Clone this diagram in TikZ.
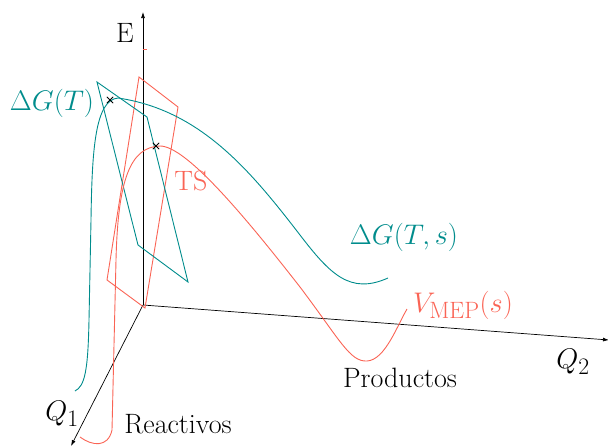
\documentclass[tikz,border=0pt]{standalone}
\usetikzlibrary{arrows.meta,shapes.misc}
\definecolor{tealc}{RGB}{0,140,140}
\definecolor{redc}{RGB}{250,100,85}
\begin{document}
\begin{tikzpicture}[x=1pt,y=-1pt,
  axis/.style={black,line width=0.7pt,-{Latex[length=6pt,width=4pt]}},
  tcurve/.style={tealc,line width=0.9pt},
  rcurve/.style={redc,line width=0.9pt},
  lbl/.style={inner sep=0pt,font=\fontsize{28}{33}\selectfont},
  mlbl/.style={inner sep=0pt,font=\Huge,scale=1.14},
  xmark/.style={cross out,draw=black,line width=0.8pt,inner sep=0pt,minimum size=5.5pt}]
\useasboundingbox (0,0) rectangle (608,445);
% axes
\coordinate (O) at (143,305);
\coordinate (Etop) at (143,12);
\coordinate (Q2end) at (609,340);
\coordinate (Q1end) at (71,446);
\draw[axis] (O) -- (Etop);
\draw[axis] (O) -- (Q2end);
\draw[axis] (O) -- (Q1end);
\coordinate (tk1) at (143,49);
\coordinate (tk2) at (147,49);
\draw[redc,line width=0.6pt] (tk1) -- (tk2);
% planes
\draw[rcurve,line join=miter] (107,280) -- (139,77) -- (178,107) -- (145,308) -- cycle;
\draw[tcurve,line join=miter] (97,82) -- (147,117) -- (188,282) -- (138,245) -- cycle;
% teal curve
\draw[tcurve] (75,391) .. controls (85,386) and (88,370) .. (89,320)
  -- (91,220) .. controls (92,150) and (95,100) .. (118,98)
  .. controls (200,110) and (250,170) .. (300,235)
  .. controls (330,274) and (350,295) .. (388,278);
% red curve
\draw[rcurve] (80,437) .. controls (92,446) and (108,448) .. (112,430)
  -- (116,260) .. controls (118,180) and (130,147) .. (160,146)
  .. controls (185,146) and (240,210) .. (300,287)
  .. controls (340,340) and (350,362) .. (367,361)
  .. controls (385,360) and (397,326) .. (407,309);
% marks
\node[xmark] (m1) at (110,100) {};
\node[xmark] (m2) at (156,146) {};
% labels
\node[lbl] (E) at (125,33) {E};
\node[mlbl,tealc] (dGT) at (52,103) {$\Delta G(T)$};
\node[lbl,redc] (TS) at (191,181) {TS};
\node[mlbl,tealc] (dGTs) at (404,237) {$\Delta G(T,s)$};
\node[mlbl,redc] (V) at (463,305) {$V_{\mathrm{MEP}}(s)$};
\node[mlbl] (q2) at (573,362) {$Q_2$};
\node[lbl] (prod) at (400,378) {Productos};
\node[mlbl] (q1) at (62,414) {$Q_1$};
\node[lbl] (reac) at (178,424) {Reactivos};
\end{tikzpicture}
\end{document}
